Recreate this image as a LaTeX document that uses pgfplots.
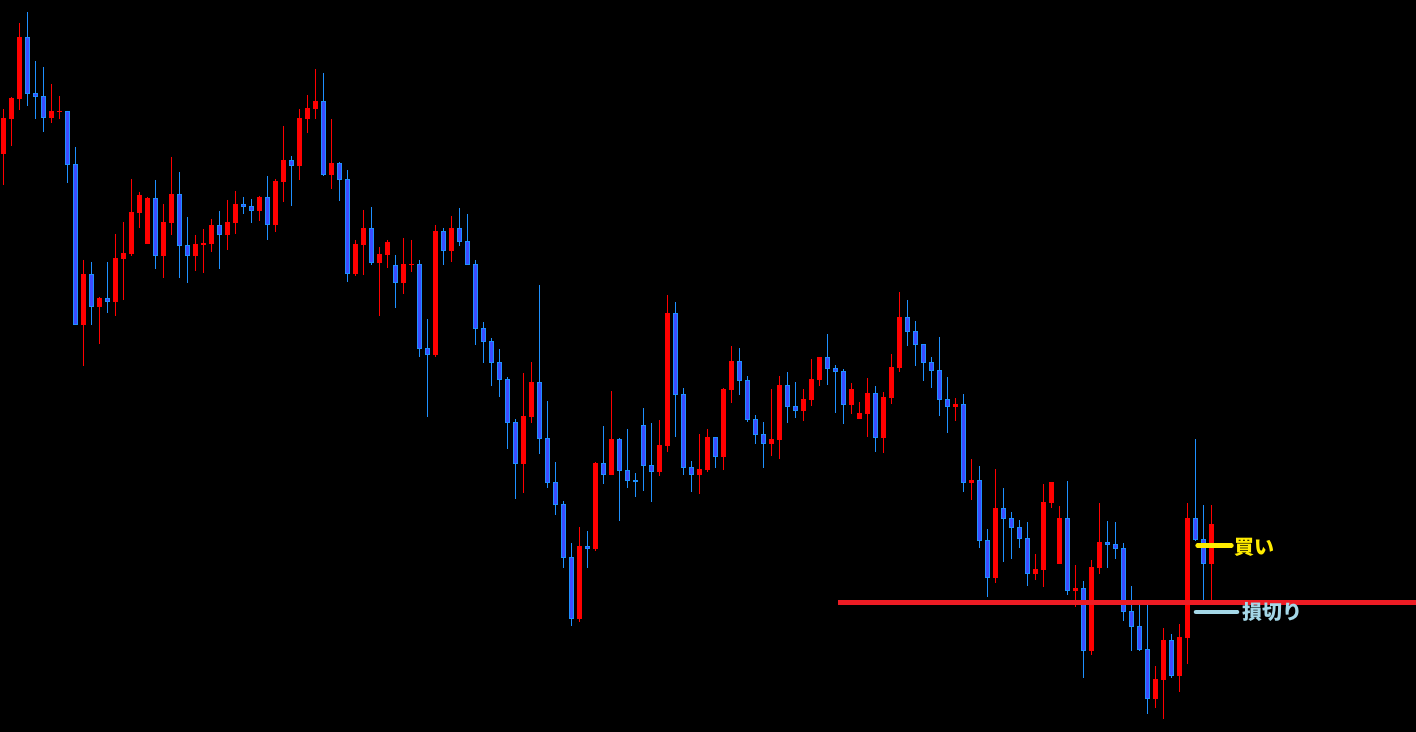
\documentclass[border=0pt]{standalone}
\usepackage{pgfplots}
\usepackage{pgfplotstable}
\pgfplotsset{compat=1.18}
\usepackage{fontspec}
\newfontfamily\jp{Noto Sans CJK JP}
\definecolor{candleRed}{RGB}{255,0,0}
\definecolor{blueFill}{RGB}{60,76,255}
\definecolor{blueEdge}{RGB}{30,144,255}
\definecolor{lineRed}{RGB}{237,28,36}
\definecolor{buyYellow}{RGB}{255,236,0}
\definecolor{stopBlue}{RGB}{164,216,232}

% columns: candle index, high, body top, body bottom, low (screen units, down = larger)
\pgfplotstableread{
i hi bt bb lo
0 109 118 154 185
1 97 98 119 146
2 23 37 99 110
6 84 111 118 123
7 96 111 112 119
10 260 274 325 366
12 297 298 307 344
14 234 258 302 316
15 222 253 259 300
16 179 212 254 256
17 192 195 213 228
18 197 198 244 244
20 204 222 256 278
21 157 194 223 235
24 235 244 256 271
25 229 243 245 273
26 219 225 244 252
28 200 222 235 250
29 191 204 223 234
32 196 197 211 221
34 179 181 225 232
35 126 160 182 202
37 109 118 166 180
38 95 108 119 133
39 69 101 109 119
41 119 163 175 189
44 240 244 274 276
45 210 228 245 275
47 247 254 263 316
48 240 242 255 268
50 238 264 283 294
51 240 264 265 272
54 225 231 355 357
56 216 228 251 262
65 373 416 464 493
66 362 382 417 423
72 527 546 619 622
74 462 463 549 551
76 391 439 475 475
82 420 445 472 476
83 295 313 446 452
87 434 469 475 494
88 429 437 470 472
90 388 389 457 470
91 346 361 390 403
96 389 439 444 456
97 376 385 440 459
100 389 399 411 421
101 359 379 400 406
102 357 357 380 386
106 383 389 405 414
107 402 413 419 419
108 378 393 414 437
110 392 397 438 453
111 354 367 398 404
112 292 317 368 372
119 398 404 407 421
121 459 480 483 500
124 469 508 578 583
129 554 569 574 580
130 484 502 570 587
131 482 482 503 508
132 506 518 564 564
134 565 588 591 607
136 560 567 651 655
137 503 542 568 574
144 666 679 699 708
145 628 640 680 719
147 624 637 676 692
148 503 518 638 664
151 505 524 564 600
}\redtab

\pgfplotstableread{
i hi bt bb lo
3 12 37 94 106
4 61 93 97 119
5 67 96 118 132
8 111 111 165 183
9 147 164 325 325
11 262 274 307 325
13 262 298 302 313
19 180 198 256 269
22 172 194 246 278
23 217 245 256 283
27 211 225 235 269
30 197 204 207 214
31 199 206 211 223
33 176 197 225 240
36 156 160 166 206
40 73 101 175 176
42 162 163 180 201
43 170 179 274 282
46 207 228 263 265
49 255 265 283 308
52 260 264 349 357
53 319 348 355 417
55 228 231 251 265
57 208 228 242 246
58 214 241 265 265
59 260 264 329 345
60 322 328 342 363
61 338 341 363 386
62 349 362 380 397
63 377 379 423 449
64 419 422 464 499
67 285 382 439 454
68 401 438 483 488
69 462 482 505 515
70 501 504 558 568
71 543 557 619 626
73 531 546 549 568
75 426 463 475 484
77 438 439 471 521
78 429 470 481 488
79 473 480 482 497
80 408 425 466 491
81 423 465 472 502
84 302 313 395 437
85 388 394 468 475
86 461 467 475 492
89 437 437 457 468
92 348 361 381 395
93 376 380 420 422
94 415 419 435 444
95 422 434 444 468
98 372 385 407 423
99 382 406 411 418
103 334 357 369 385
104 365 368 372 413
105 369 371 405 424
109 386 393 438 452
113 300 317 332 346
114 321 331 345 366
115 344 344 363 381
116 357 362 371 388
117 337 370 400 416
118 377 399 407 433
120 394 404 483 492
122 466 480 541 548
123 529 540 578 597
125 488 508 519 562
126 512 518 528 559
127 520 527 539 548
128 522 538 574 586
133 481 518 591 595
135 581 588 651 678
138 521 542 545 568
139 522 544 549 559
140 543 548 612 621
141 586 611 627 651
142 605 626 650 651
143 605 649 699 714
146 634 640 676 678
149 439 518 540 541
150 505 539 564 600
}\bluetab

\begin{document}
\begin{tikzpicture}
\fill[black] (0,0) rectangle (708pt,366pt);
\useasboundingbox (0,0) rectangle (708pt,366pt);
\begin{axis}[
  at={(0,0)}, anchor=south west,
  width=708pt, height=366pt, scale only axis,
  xmin=-0.4125, xmax=176.5875, ymin=0, ymax=732,
  y dir=reverse, hide axis,
]
% wicks
\addplot[draw=none, mark=none, forget plot,
  error bars/.cd, y dir=plus, y explicit, error mark=none,
  error bar style={line width=0.5pt, draw=candleRed}]
  table[x=i, y=hi, y error plus expr=\thisrow{lo}-\thisrow{hi}] {\redtab};
\addplot[draw=none, mark=none, forget plot,
  error bars/.cd, y dir=plus, y explicit, error mark=none,
  error bar style={line width=0.5pt, draw=blueEdge}]
  table[x=i, y=hi, y error plus expr=\thisrow{lo}-\thisrow{hi}] {\bluetab};
% bodies
\addplot[draw=none, mark=none, forget plot,
  error bars/.cd, y dir=plus, y explicit, error mark=none,
  error bar style={line width=2.5pt, draw=candleRed}]
  table[x=i, y=bt, y error plus expr=\thisrow{bb}-\thisrow{bt}] {\redtab};
\addplot[draw=none, mark=none, forget plot,
  error bars/.cd, y dir=plus, y explicit, error mark=none,
  error bar style={line width=2.5pt, draw=blueEdge}]
  table[x=i, y=bt, y error plus expr=\thisrow{bb}-\thisrow{bt}] {\bluetab};
\addplot[draw=none, mark=none, forget plot,
  error bars/.cd, y dir=plus, y explicit, error mark=none,
  error bar style={line width=1.5pt, draw=blueFill}]
  table[x=i, y expr=\thisrow{bt}+1, y error plus expr=\thisrow{bb}-\thisrow{bt}-2] {\bluetab};
% stop line
\addplot[lineRed, line width=2.5pt, mark=none] coordinates {(104.34,602.5) (176.6,602.5)};
% buy / stop markers
\addplot[buyYellow, line width=2.4pt, line cap=round, mark=none] coordinates {(149.3,545.5) (153.5,545.5)};
\addplot[stopBlue, line width=2.4pt, line cap=round, mark=none] coordinates {(149.1,612) (154.2,612)};
\node[anchor=west, inner sep=0pt, text=buyYellow, font=\jp\bfseries\fontsize{10pt}{12pt}\selectfont] at (axis cs:153.8,547.5) {買い};
\node[anchor=west, inner sep=0pt, text=stopBlue, font=\jp\bfseries\fontsize{10pt}{12pt}\selectfont] at (axis cs:154.8,611.5) {損切り};
\end{axis}
\end{tikzpicture}
\end{document}
